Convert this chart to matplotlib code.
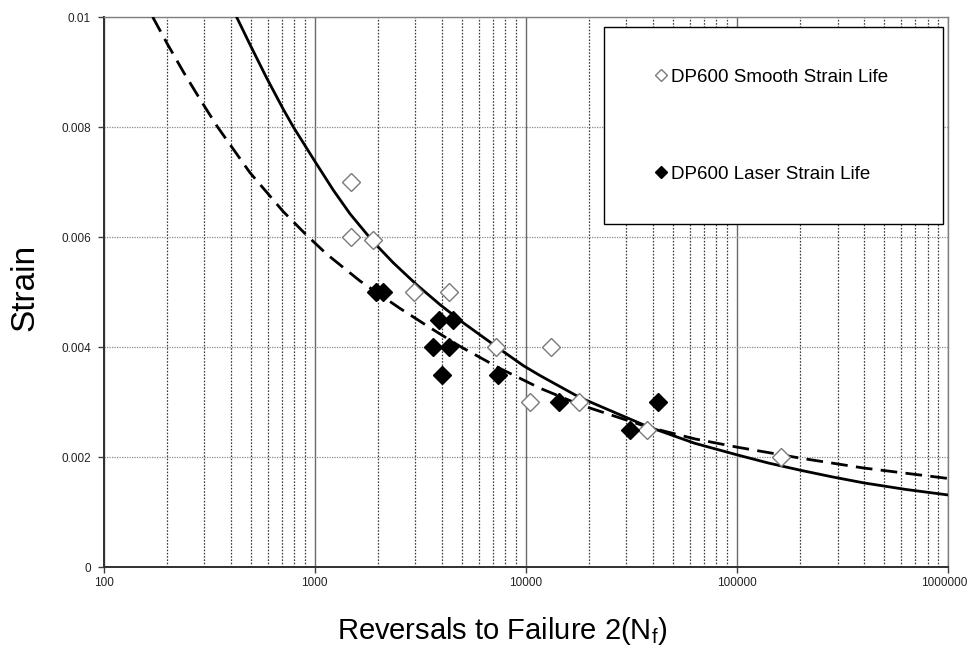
import matplotlib
matplotlib.use("Agg")
import matplotlib.pyplot as plt
from matplotlib.ticker import FixedLocator, FixedFormatter, NullFormatter, LogLocator
from matplotlib.patches import Rectangle
from matplotlib.lines import Line2D
from matplotlib.transforms import ScaledTranslation

plt.rcParams['font.family'] = ['Liberation Sans', 'DejaVu Sans']
plt.rcParams['mathtext.fontset'] = 'custom'
plt.rcParams['mathtext.rm'] = 'Liberation Sans'

# Test data: reversals to failure and strain amplitude
smooth_reversals = [1480, 1490, 1880, 2960, 4330, 7230, 10470, 13180, 17950, 37410, 161800]
smooth_strain = [0.0070, 0.0060, 0.00595, 0.0050, 0.0050, 0.0040, 0.0030, 0.0040, 0.0030, 0.0025, 0.0020]

laser_reversals = [1950, 2100, 3880, 4540, 3650, 4340, 4030, 7370, 14420, 31190, 42170]
laser_strain = [0.0050, 0.0050, 0.0045, 0.0045, 0.0040, 0.0040, 0.0035, 0.0035, 0.0030, 0.0025, 0.0030]

# Strain-life fit curves
smooth_fit_reversals = [427, 494, 593, 711, 793, 1005, 1227, 1472, 1897, 2360, 3048, 3926, 5058,
                        7295, 9750, 11695, 18070, 37410, 63100, 100000, 141250, 199500, 281800,
                        398100, 631000, 1000000]
smooth_fit_strain = [0.01000, 0.00950, 0.00889, 0.00832, 0.00800, 0.00737, 0.00685, 0.00642,
                     0.00591, 0.00553, 0.00513, 0.00477, 0.00444, 0.00400, 0.00366, 0.00348,
                     0.00308, 0.00256, 0.00225, 0.00204, 0.00189, 0.00176, 0.00164, 0.00153,
                     0.00141, 0.00131]

laser_fit_reversals = [171, 200, 240, 286, 347, 494, 711, 918, 1140, 1641, 2541, 3524, 4887,
                       7551, 11695, 18070, 37410, 63100, 100000, 199500, 398100, 1000000]
laser_fit_strain = [0.01000, 0.00952, 0.00899, 0.00851, 0.00800, 0.00717, 0.00646, 0.00603,
                    0.00569, 0.00520, 0.00470, 0.00435, 0.00401, 0.00361, 0.00325, 0.00295,
                    0.00255, 0.00233, 0.00218, 0.00198, 0.00180, 0.00161]

x_ticks = [100, 1000, 10000, 100000, 1000000]
x_tick_labels = ['100', '1000', '10000', '100000', '1000000']
y_ticks = [0, 0.002, 0.004, 0.006, 0.008, 0.01]
y_tick_labels = ['0', '0.002', '0.004', '0.006', '0.008', '0.01']

W, H = 969, 651
fig = plt.figure(figsize=(W / 100, H / 100), dpi=100)
ax = fig.add_axes([103.5 / W, (H - 567) / H, 844.5 / W, 550 / H])

ax.set_xscale('log')
ax.set_xlim(100, 1e6)
ax.set_ylim(0, 0.01)

ax.xaxis.set_major_locator(FixedLocator(x_ticks))
ax.xaxis.set_major_formatter(FixedFormatter(x_tick_labels))
ax.xaxis.set_minor_locator(LogLocator(base=10, subs=range(2, 10)))
ax.xaxis.set_minor_formatter(NullFormatter())
ax.yaxis.set_major_locator(FixedLocator(y_ticks))
ax.yaxis.set_major_formatter(FixedFormatter(y_tick_labels))

ax.tick_params(axis='both', which='major', labelsize=8.5, length=4, width=1,
               color='#404040', labelcolor='#222222', direction='out')
ax.tick_params(axis='x', which='major', pad=3)
ax.tick_params(axis='y', which='major', pad=5)
ax.tick_params(axis='x', which='minor', length=0)

ax.grid(which='major', axis='x', color='#6a6a6a', lw=1.0, ls='-')
ax.grid(which='minor', axis='x', color='#3a3a3a', lw=0.9, ls=(0, (1.3, 1.3)))
ax.grid(which='major', axis='y', color='#8a8a8a', lw=0.9, ls=(0, (1.0, 1.0)))
ax.set_axisbelow(True)

for side in ('left', 'bottom'):
    ax.spines[side].set_color('#303030')
    ax.spines[side].set_linewidth(1.4)
for side in ('top', 'right'):
    ax.spines[side].set_color('#808080')
    ax.spines[side].set_linewidth(1.0)

ax.plot(smooth_fit_reversals, smooth_fit_strain, color='black', lw=2.0, zorder=3,
        solid_joinstyle='round')
ax.plot(laser_fit_reversals, laser_fit_strain, color='black', lw=2.0, zorder=3,
        ls=(0, (6, 3)))

ax.plot(smooth_reversals, smooth_strain, ls='none', marker='D', ms=9,
        mfc='white', mec='#7a7a7a', mew=1.0, zorder=4)
ax.plot(laser_reversals, laser_strain, ls='none', marker='D', ms=9,
        mfc='black', mec='black', mew=1.0, zorder=4)

# Legend panel
ax.add_patch(Rectangle((0.593, 0.624), 0.401, 0.358, transform=ax.transAxes,
                       fc='white', ec='black', lw=1.0, zorder=5))
handles = [
    Line2D([], [], ls='none', marker='D', ms=6.5, mfc='white', mec='#7a7a7a', mew=1.0),
    Line2D([], [], ls='none', marker='D', ms=6.5, mfc='black', mec='black', mew=1.0),
]
leg = ax.legend(handles, ['DP600 Smooth Strain Life', 'DP600 Laser Strain Life'],
                loc='center left', bbox_to_anchor=(0.653, 0.802), frameon=False,
                fontsize=13.5, numpoints=1, handlelength=0.65, handletextpad=0.2,
                labelspacing=4.27, borderpad=0, borderaxespad=0)
leg.set_zorder(6)

fig.text(25 / W, 1 - 287 / H, 'Strain', rotation=90, ha='center', va='center', fontsize=24)
fig.text(502 / W, 1 - 631 / H, r'Reversals to Failure 2(N$_\mathregular{f}$)',
         ha='center', va='center', fontsize=21)

# keep the rightmost tick label inside the figure
fig.canvas.draw()
last_label = ax.get_xticklabels()[-1]
last_label.set_transform(last_label.get_transform()
                         + ScaledTranslation(-4 / 100, 0, fig.dpi_scale_trans))

fig.savefig('out.png', dpi=100)
